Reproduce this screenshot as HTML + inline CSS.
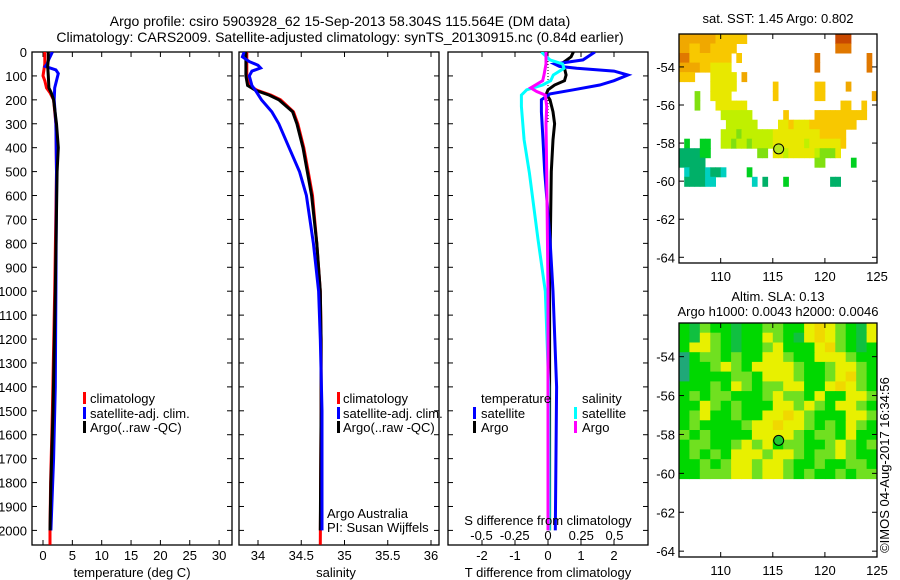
<!DOCTYPE html>
<html><head><meta charset="utf-8">
<style>
html,body{margin:0;padding:0;background:#fff;}
svg{display:block;font-family:"Liberation Sans",sans-serif;}
text{font-size:13px;fill:#000;}
</style></head>
<body>
<svg id="chart" width="900" height="580" viewBox="0 0 900 580" xmlns="http://www.w3.org/2000/svg">
<rect width="900" height="580" fill="#fff"/>
<text x="340" y="26" text-anchor="middle" style="font-size:14px">Argo profile: csiro 5903928_62 15-Sep-2013 58.304S 115.564E (DM data)</text>
<text x="340" y="42" text-anchor="middle" style="font-size:14px">Climatology: CARS2009. Satellite-adjusted climatology: synTS_20130915.nc (0.84d earlier)</text>
<text x="778" y="23" text-anchor="middle">sat. SST: 1.45 Argo: 0.802</text>
<text x="778" y="301" text-anchor="middle">Altim. SLA: 0.13</text>
<text x="778" y="316" text-anchor="middle">Argo h1000: 0.0043 h2000: 0.0046</text>
<text transform="translate(889,465) rotate(-90)" text-anchor="middle">©IMOS 04-Aug-2017 16:34:56</text>
<g id="g"></g>
</svg>
<script>
// ---- data ----
const depthTicks=[0,100,200,300,400,500,600,700,800,900,1000,1100,1200,1300,1400,1500,1600,1700,1800,1900,2000];
const tempTicks=[0,5,10,15,20,25,30];
const salTicks=[34,34.5,35,35.5,36];
const salTickLabels=["34","34.5","35","35.5","36"];
const tdiffTicks=[-2,-1,0,1,2];
const sdiffTicks=[-0.5,-0.25,0,0.25,0.5];
const sdiffTickLabels=["-0.5","-0.25","0","0.25","0.5"];

const tClimD=[0,50,100,120,150,170,200,300,500,1000,1500,1700,1800,2000,2060];
const tClim=[0.3,0.3,0.0,0.3,0.6,1.2,1.8,2.2,2.3,2.0,1.6,1.4,1.3,1.2,1.2];
const tArgoD=[0,30,60,100,150,170,200,300,400,500,1000,1500,1800,2000];
const tArgo=[0.9,0.9,0.8,0.9,1.0,1.4,1.8,2.3,2.6,2.4,2.1,1.7,1.35,1.2];
const tSatD=[0,30,50,60,75,90,100,150,200,300,500,1000,1400,1700,2000];
const tSat=[1.6,1.0,0.7,0.4,2.2,2.6,2.5,2.0,1.9,2.2,2.3,2.2,2.1,1.8,1.35];

const sClimD=[0,100,140,160,180,200,250,300,400,500,600,800,1000,1200,1500,2060];
const sClim=[33.87,33.87,33.9,33.99,34.15,34.26,34.41,34.46,34.53,34.58,34.63,34.68,34.72,34.73,34.73,34.72];
const sArgoD=[0,100,140,160,180,200,250,300,400,500,600,800,1000,1200,1500,2000];
const sArgo=[33.86,33.86,33.88,33.97,34.13,34.24,34.40,34.45,34.52,34.57,34.62,34.68,34.72,34.73,34.73,34.72];
const sSatD=[0,20,40,55,67,80,100,140,160,200,250,300,400,500,600,800,1000,1200,1500,2000];
const sSat=[33.84,33.82,33.9,34.0,34.03,33.93,33.9,33.93,33.97,34.04,34.16,34.24,34.36,34.48,34.56,34.64,34.70,34.72,34.74,34.74];

const dTSatD=[0,33,50,60,68,80,96,120,138,158,175,200,250,367,500,783,1000,1400,2000];
const dTSat=[1.42,1.06,0.2,0.35,0.87,2.0,2.42,2.0,1.57,0.77,0.06,-0.2,-0.2,-0.15,-0.1,0.06,0.15,0.26,0.22];
const dTArgoD=[0,20,50,68,96,120,138,158,175,200,250,300,367,500,1000,2000];
const dTArgo=[0.77,0.7,0.4,0.5,0.55,0.5,0.2,0,-0.05,0.06,0.15,0.2,0.15,0.1,0.05,0.05];
const dSSatD=[0,33,50,68,96,120,138,158,180,228,367,506,783,1000,1400,2000];
const dSSat=[-0.05,0.015,0.11,0.12,0.04,0.02,-0.04,-0.16,-0.2,-0.2,-0.18,-0.14,-0.075,-0.02,0.005,0.01];
const dSArgoD=[0,50,96,120,150,165,180,228,300,500,1000,2000];
const dSArgo=[-0.015,-0.015,-0.03,-0.04,-0.13,-0.085,-0.02,-0.01,-0.015,-0.01,0,0];

const latTicks=[-54,-56,-58,-60,-62,-64];
const lonTicks=[110,115,120,125];
const sstRows=[
"7777777666666.................999.....",
"77667766666...................888.....",
"8866666666.6..............8.........8.",
"7777665555................8.........8.",
"666...55555.7.........................",
"......55555.......6.......66....7.....",
"...3..5555........6.......66.........7",
"...3...555555..................66..6..",
"........444444......6.....6666666666..",
".........444444....556555666666666....",
"........444344444455555555566666......",
".2..22..443443444455555545555556......",
"111122.........33.5545555543335.......",
"11111.....................33.....2....",
".01110110....2........................",
".111100.......0.1...2........11......."];
const slaRows=[
"gdlggdggllggYoYlgdY","gdYlgdggYlgdYoYlgdY","gYYlgdgglYgggYolgdg","tgllglggYYlggYYYlgg",
"tgglYlgYYYYlgglYYlg","tggggllgYYYlgglYolg","ggglgYlgllYYggYoYlg","glgllggglYllgYggYYl",
"ggYlglgggYYlYlgYYlg","glYgglggYYoYlgggYYl","glgggglYYoYYlglgYlg","lglggggYYYYlgllgYgg",
"gllgglYlYgllgglYlgl","glglgYYYlYYlgllYlgg","gglglYYlYYlgglggllg","gglllYYlYYlglgglgll"];
const argoLon=115.564, argoLat=-58.304;

// ---- helpers ----
const NS="http://www.w3.org/2000/svg";
const G=document.getElementById('g');
function mk(tag,attrs,parent){const e=document.createElementNS(NS,tag);for(const k in attrs)e.setAttribute(k,attrs[k]);(parent||G).appendChild(e);return e;}
const TOP=52, BOT=545, DS=0.2392;
const yD=d=>TOP+d*DS;
const P1={x0:32,x1:232}, P2={x0:239,x1:439}, P3={x0:448,x1:648};
const xT=v=>43+v*5.87;
const xS=v=>258+(v-34)*86.5;
const xTd=v=>548+v*33;
const xSd=v=>548+v*133;

function frame(p,name){
  const r=mk('rect',{x:p.x0,y:TOP,width:p.x1-p.x0,height:BOT-TOP,fill:'none',stroke:'#000','stroke-width':1.3});
  
  
  depthTicks.forEach(d=>{
    mk('line',{x1:p.x0,x2:p.x0+5,y1:yD(d),y2:yD(d),stroke:'#000'});
    mk('line',{x1:p.x1,x2:p.x1-5,y1:yD(d),y2:yD(d),stroke:'#000'});
  });
}
function clipFor(p,id){const c=mk('clipPath',{id:id});mk('rect',{x:p.x0,y:TOP,width:p.x1-p.x0,height:BOT-TOP},c);}
function series(ds,vs,xf,color,clip,name){
  const pts=ds.map((d,i)=>xf(vs[i]).toFixed(1)+','+yD(d).toFixed(1)).join(' ');
  const l=mk('polyline',{points:pts,fill:'none',stroke:color,'stroke-width':3,'stroke-linejoin':'miter','clip-path':'url(#'+clip+')'});
  
  
}
function txt(x,y,s,anchor,name){const t=mk('text',{x:x,y:y,'text-anchor':anchor||'start'});t.textContent=s;return t;}
function legendBar(x,y,color,name){const r=mk('rect',{x:x,y:y-11,width:3,height:12,fill:color});}

// depth labels
depthTicks.forEach(d=>{txt(27,yD(d)+5,String(d),'end','depth-tick-label');});

// panel 1
clipFor(P1,'c1');frame(P1,'temperature-panel');
tempTicks.forEach(v=>{mk('line',{x1:xT(v),x2:xT(v),y1:TOP,y2:TOP+5,stroke:'#000'});mk('line',{x1:xT(v),x2:xT(v),y1:BOT,y2:BOT-5,stroke:'#000'});txt(xT(v),560,String(v),'middle','temperature-tick-label');});
series(tClimD,tClim,xT,'#ff0000','c1','temperature-climatology-line');
series(tSatD,tSat,xT,'#0000ff','c1','temperature-satellite-line');
series(tArgoD,tArgo,xT,'#000000','c1','temperature-argo-line');
txt(132,577,'temperature (deg C)','middle','temperature-axis-title');
legendBar(83,403,'#ff0000','legend-climatology-swatch');txt(90,403,'climatology','start','legend-climatology');
legendBar(83,418,'#0000ff','legend-satellite-swatch');txt(90,418,'satellite-adj. clim.','start','legend-satellite');
legendBar(83,432,'#000000','legend-argo-swatch');txt(90,432,'Argo(..raw -QC)','start','legend-argo');

// panel 2
clipFor(P2,'c2');frame(P2,'salinity-panel');
salTicks.forEach((v,i)=>{mk('line',{x1:xS(v),x2:xS(v),y1:TOP,y2:TOP+5,stroke:'#000'});mk('line',{x1:xS(v),x2:xS(v),y1:BOT,y2:BOT-5,stroke:'#000'});txt(xS(v),560,salTickLabels[i],'middle','salinity-tick-label');});
series(sClimD,sClim,xS,'#ff0000','c2','salinity-climatology-line');
series(sArgoD,sArgo,xS,'#000000','c2','salinity-argo-line');
series(sSatD,sSat,xS,'#0000ff','c2','salinity-satellite-line');
txt(336,577,'salinity','middle','salinity-axis-title');
legendBar(337,403,'#ff0000','legend2-climatology-swatch');txt(343,403,'climatology','start','legend2-climatology');
legendBar(337,418,'#0000ff','legend2-satellite-swatch');txt(343,418,'satellite-adj. clim.','start','legend2-satellite');
legendBar(337,432,'#000000','legend2-argo-swatch');txt(343,432,'Argo(..raw -QC)','start','legend2-argo');
txt(327,518,'Argo Australia','start','credit-argo-australia');
txt(327,532,'PI: Susan Wijffels','start','credit-pi');

// panel 3
clipFor(P3,'c3');frame(P3,'difference-panel');
tdiffTicks.forEach(v=>{mk('line',{x1:xTd(v),x2:xTd(v),y1:TOP,y2:TOP+5,stroke:'#000'});mk('line',{x1:xTd(v),x2:xTd(v),y1:BOT,y2:BOT-5,stroke:'#000'});txt(xTd(v),560,String(v),'middle','tdiff-tick-label');});
sdiffTicks.forEach((v,i)=>{txt(xSd(v),540,sdiffTickLabels[i],'middle','sdiff-tick-label');});
mk('line',{x1:xTd(0),x2:xTd(0),y1:TOP,y2:yD(300),stroke:'#000','stroke-dasharray':'1,2'});
series(dTArgoD,dTArgo,xTd,'#000000','c3','tdiff-argo-line');
series(dTSatD,dTSat,xTd,'#0000ff','c3','tdiff-satellite-line');
series(dSSatD,dSSat,xSd,'#00ffff','c3','sdiff-satellite-line');
series(dSArgoD,dSArgo,xSd,'#ff00ff','c3','sdiff-argo-line');
txt(548,525,'S difference from climatology','middle','sdiff-axis-title');
txt(548,577,'T difference from climatology','middle','tdiff-axis-title');
txt(481,403,'temperature','start','legend3-temperature-heading');
legendBar(473,418,'#0000ff','legend3-tsat-swatch');txt(481,418,'satellite','start','legend3-tsat');
legendBar(473,432,'#000000','legend3-targo-swatch');txt(481,432,'Argo','start','legend3-targo');
txt(582,403,'salinity','start','legend3-salinity-heading');
legendBar(574,418,'#00ffff','legend3-ssat-swatch');txt(582,418,'satellite','start','legend3-ssat');
legendBar(574,432,'#ff00ff','legend3-sargo-swatch');txt(582,432,'Argo','start','legend3-sargo');

// maps
const sstCol={'0':'#00d0c0','1':'#00b068','2':'#00d020','3':'#80e010','4':'#c0f000','5':'#e8e800','6':'#f8c800','7':'#f0a800','8':'#e07800','9':'#c84800'};
const slaCol={'t':'#20a878','d':'#10c040','g':'#00d800','l':'#70e020','y':'#c8f020','Y':'#e8f000','o':'#f0d800'};
function map(y0,y1,rows,cols,cellLon,name,dotColor){
  const X0=679,X1=877,LON0=106,LON1=125,LAT0=-52.27;
  const sy=(y1-y0)/(LAT0-(-64.3));
  const xL=lon=>X0+(lon-LON0)*(X1-X0)/(LON1-LON0);
  const yL=lat=>y0+(LAT0-lat)*sy;
  const cellLat=0.5;
  rows.forEach((row,r)=>{[...row].forEach((ch,c)=>{
    if(!cols[ch])return;
    const cell=mk('rect',{x:xL(LON0+c*cellLon).toFixed(1),y:yL(LAT0-r*cellLat).toFixed(1),width:(xL(LON0+cellLon)-X0+0.5).toFixed(1),height:(cellLat*sy+0.5).toFixed(1),fill:cols[ch]});
    
    
  });});
  const fr=mk('rect',{x:X0,y:y0,width:X1-X0,height:y1-y0,fill:'none',stroke:'#000','stroke-width':1.3});
  
  
  latTicks.forEach(l=>{mk('line',{x1:X0,x2:X0+5,y1:yL(l),y2:yL(l),stroke:'#000'});mk('line',{x1:X1,x2:X1-5,y1:yL(l),y2:yL(l),stroke:'#000'});txt(X0-4,yL(l)+5,String(l),'end',name+'-lat-label');});
  lonTicks.forEach(l=>{mk('line',{x1:xL(l),x2:xL(l),y1:y0,y2:y0+5,stroke:'#000'});mk('line',{x1:xL(l),x2:xL(l),y1:y1,y2:y1-5,stroke:'#000'});txt(xL(l),y1+18,String(l),'middle',name+'-lon-label');});
  const m=mk('circle',{cx:xL(argoLon),cy:yL(argoLat),r:5,fill:dotColor,stroke:'#000','stroke-width':1});
  
  
}
map(34,263,sstRows,sstCol,0.5,'sst-map','#b8e820');
map(323,557,slaRows,slaCol,1,'sla-map','#20c830');
</script>
</body></html>
